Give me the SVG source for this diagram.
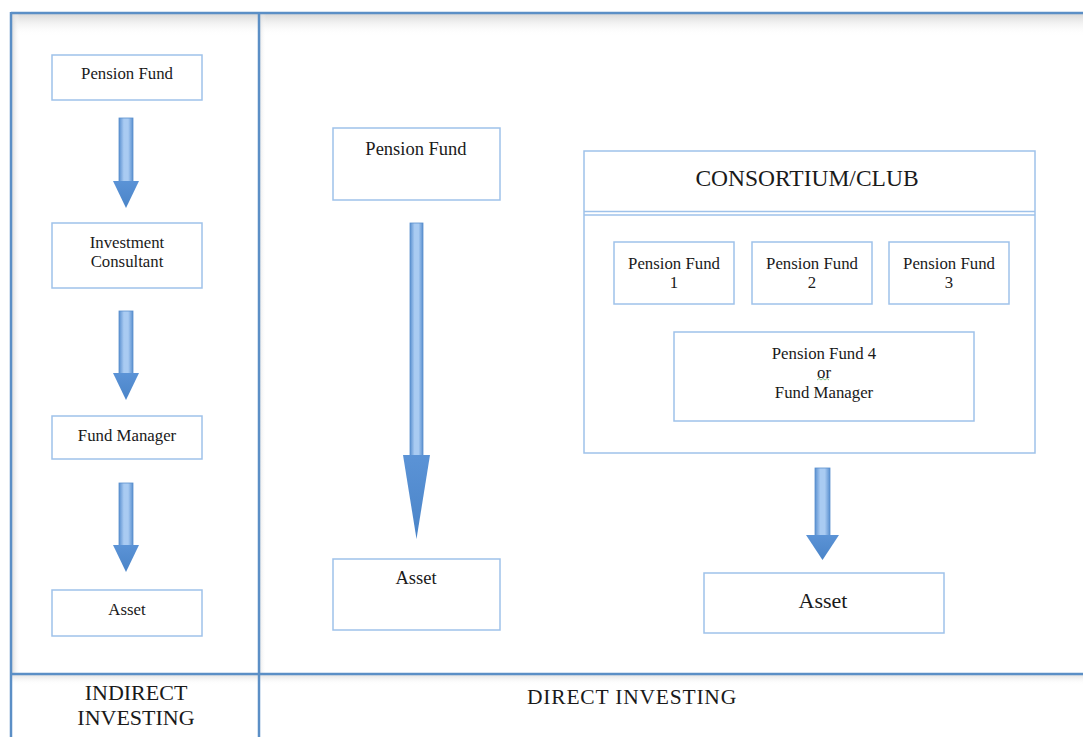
<svg xmlns="http://www.w3.org/2000/svg" width="1083" height="737" viewBox="0 0 1083 737">
<style>
.frame{stroke:#5b8fc6;stroke-width:2.5;fill:none}
.box{fill:#fff;stroke:#9fc2ea;stroke-width:1.5}
.t{font-family:"Liberation Serif","Times New Roman",serif;fill:#1a1a1a;text-anchor:middle}
.s17{font-size:16.8px}
.s18{font-size:18.5px}
.s22{font-size:22px}
.arrow{fill:url(#shaft);stroke:#5a8fcd;stroke-width:0.8}
.head{fill:url(#headg)}
</style>
<defs>
<linearGradient id="shaft" x1="0" y1="0" x2="1" y2="0">
<stop offset="0" stop-color="#5a90d0"/>
<stop offset="0.35" stop-color="#a9cbf2"/>
<stop offset="0.65" stop-color="#a9cbf2"/>
<stop offset="1" stop-color="#5a90d0"/>
</linearGradient>
<linearGradient id="headg" x1="0" y1="0" x2="0" y2="1">
<stop offset="0" stop-color="#5b93d6"/>
<stop offset="1" stop-color="#4a84c8"/>
</linearGradient>
<linearGradient id="shade" x1="0" y1="0" x2="0" y2="1">
<stop offset="0" stop-color="#d8d8d8"/>
<stop offset="1" stop-color="#ffffff" stop-opacity="0"/>
</linearGradient>
<linearGradient id="shadeL" x1="0" y1="0" x2="1" y2="0">
<stop offset="0" stop-color="#dcdcdc"/>
<stop offset="1" stop-color="#ffffff" stop-opacity="0"/>
</linearGradient>
</defs>
<rect width="1083" height="737" fill="#fff"/>
<rect x="12" y="14" width="1071" height="22" fill="url(#shade)"/>
<rect x="12" y="14" width="8" height="660" fill="url(#shadeL)"/>
<rect x="260" y="14" width="6" height="660" fill="url(#shadeL)" opacity="0.6"/>
<rect x="12" y="675" width="1071" height="10" fill="url(#shade)" opacity="0.7"/>
<g id="frame">
<line class="frame" x1="11" y1="13" x2="1083" y2="13"/>
<line class="frame" x1="11" y1="12" x2="11" y2="737"/>
<line class="frame" x1="259" y1="13" x2="259" y2="737"/>
<line class="frame" x1="11" y1="674" x2="1083" y2="674"/>
</g>
<g id="connectors">
<g id="arrow-l1"><rect class="arrow" x="119" y="118" width="14" height="65"/><polygon class="head" points="113,181 139,181 126,208"/></g>
<g id="arrow-l2"><rect class="arrow" x="119" y="311" width="14" height="64"/><polygon class="head" points="113,373 139,373 126,400"/></g>
<g id="arrow-l3"><rect class="arrow" x="119" y="483" width="14" height="64"/><polygon class="head" points="113,545 139,545 126,572"/></g>
<g id="arrow-m"><rect class="arrow" x="410" y="223" width="13" height="234"/><polygon class="head" points="403,455 430,455 416.5,539"/></g>
<g id="arrow-r"><rect class="arrow" x="815" y="468" width="15" height="69"/><polygon class="head" points="806,535 839,535 822.5,560"/></g>
</g>
<g id="indirect-pension-fund"><rect class="box" x="52" y="55" width="150" height="45"/><text class="t s17" x="127" y="79">Pension Fund</text></g>
<g id="investment-consultant"><rect class="box" x="52" y="223" width="150" height="65"/><text class="t s17" x="127" y="248">Investment</text><text class="t s17" x="127" y="267">Consultant</text></g>
<g id="fund-manager"><rect class="box" x="52" y="416" width="150" height="43"/><text class="t s17" x="127" y="441">Fund Manager</text></g>
<g id="indirect-asset"><rect class="box" x="52" y="590" width="150" height="46"/><text class="t s17" x="127" y="615">Asset</text></g>
<g id="direct-pension-fund"><rect class="box" x="333" y="128" width="167" height="72"/><text class="t s18" x="416" y="155">Pension Fund</text></g>
<g id="direct-asset"><rect class="box" x="333" y="559" width="167" height="71"/><text class="t s18" x="416" y="584">Asset</text></g>
<g id="consortium">
<rect class="box" x="584" y="151" width="451" height="302"/>
<line x1="584" y1="211.5" x2="1035" y2="211.5" stroke="#9fc2ea" stroke-width="1.5"/>
<line x1="584" y1="215" x2="1035" y2="215" stroke="#9fc2ea" stroke-width="1.5"/>
<text class="t" x="807" y="186" font-size="23.5">CONSORTIUM/CLUB</text>
</g>
<g id="pension-fund-1"><rect class="box" x="614" y="242" width="120" height="62"/><text class="t s17" x="674" y="269">Pension Fund</text><text class="t s17" x="674" y="288">1</text></g>
<g id="pension-fund-2"><rect class="box" x="752" y="242" width="120" height="62"/><text class="t s17" x="812" y="269">Pension Fund</text><text class="t s17" x="812" y="288">2</text></g>
<g id="pension-fund-3"><rect class="box" x="889" y="242" width="120" height="62"/><text class="t s17" x="949" y="269">Pension Fund</text><text class="t s17" x="949" y="288">3</text></g>
<g id="pension-fund-4"><rect class="box" x="674" y="332" width="300" height="89"/>
<text class="t s17" x="824" y="359">Pension Fund 4</text>
<text class="t s17" x="824" y="378">or</text>
<path d="M817,380 l2,-1.5 l2,1.5 l2,-1.5 l2,1.5 l2,-1.5 l2,1.5" fill="none" stroke="#6fb36f" stroke-width="0.8"/>
<text class="t s17" x="824" y="398">Fund Manager</text></g>
<g id="consortium-asset"><rect class="box" x="704" y="573" width="240" height="60"/><text class="t s22" x="823" y="608">Asset</text></g>
<g id="labels">
<text class="t" x="136" y="700" font-size="22">INDIRECT</text>
<text class="t" x="136" y="725" font-size="22">INVESTING</text>
<text class="t" x="632" y="704" font-size="21.5" letter-spacing="0.8">DIRECT INVESTING</text>
</g>
</svg>
